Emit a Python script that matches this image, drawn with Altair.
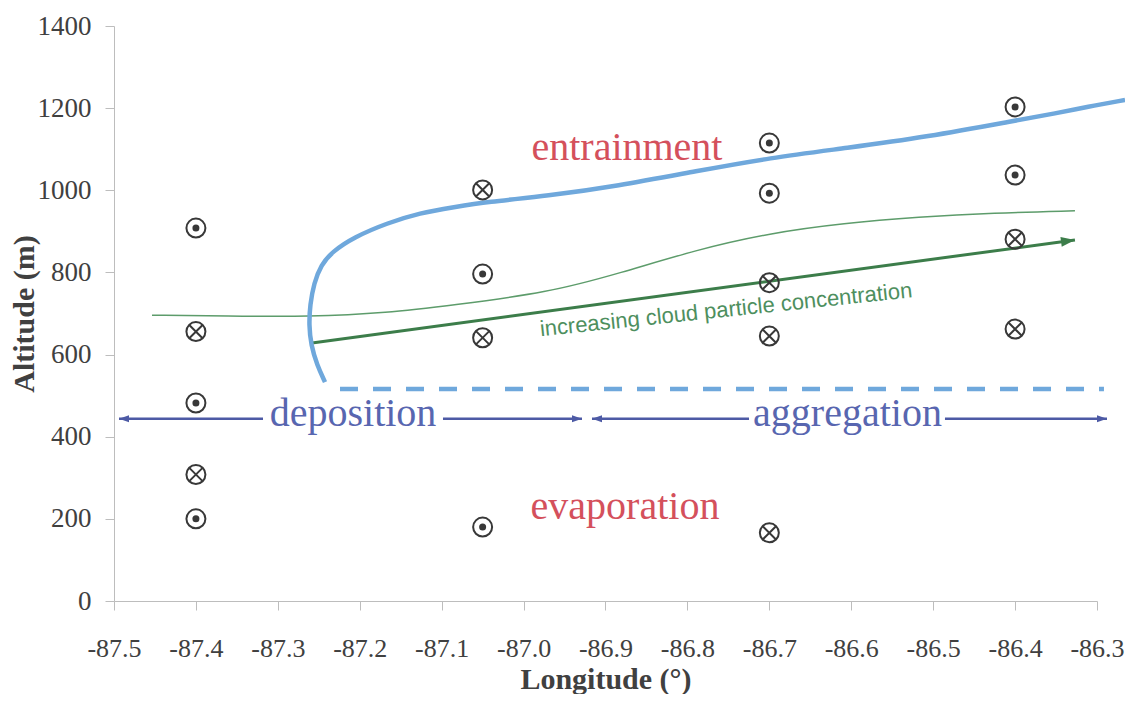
import altair as alt
import pandas as pd

# ---------------- data ----------------
x_ticks = [-87.5, -87.4, -87.3, -87.2, -87.1, -87.0, -86.9, -86.8, -86.7, -86.6, -86.5, -86.4, -86.3]
y_ticks = [0, 200, 400, 600, 800, 1000, 1200, 1400]

# circle-with-dot markers
dot_lon = [-87.4, -87.4, -87.4, -87.05, -87.05, -86.7, -86.7, -86.4, -86.4]
dot_alt = [908, 482, 200, 796, 180, 1115, 993, 1203, 1037]
# circle-with-cross markers
cross_lon = [-87.4, -87.4, -87.05, -87.05, -86.7, -86.7, -86.7, -86.4, -86.4]
cross_alt = [656, 308, 1001, 641, 775, 645, 166, 881, 662]

# thick blue boundary curve (ordered)
blue_lon = [-87.2424, -87.2522, -87.2595, -87.2620, -87.2607, -87.2559, -87.2473, -87.2339,
            -87.2070, -87.1667, -87.1265, -87.0849, -87.0447, -86.9714, -86.8860, -86.7883,
            -86.6992, -86.6052, -86.5075, -86.4013, -86.3488, -86.3122, -86.2658]
blue_alt = [533, 575, 623, 672, 721, 774, 818, 850, 886, 920, 945, 959, 972, 986, 1010, 1047,
            1079, 1103, 1130, 1169, 1188, 1203, 1220]

# dashed blue line
dash_lon = [-87.2241, -86.2915]
dash_alt = [516, 516]

# thin green curve
green_lon = [-87.4536, -87.3621, -87.2620, -87.1667, -87.0849, -86.9714, -86.8811, -86.7895,
             -86.6992, -86.6089, -86.5173, -86.4270, -86.3269]
green_alt = [696, 694, 692, 701, 721, 750, 799, 855, 896, 920, 935, 945, 950]

# thick green arrow
garrow_lon = [-87.2583, -86.3269]
garrow_alt = [628, 879]

# indigo arrow segments
seg_start = [-87.4939, -87.0984, -86.9165, -86.4856]
seg_end = [-87.3181, -86.9287, -86.7248, -86.2878]
seg_alt = [444, 444, 444, 444]
head_lon = [-87.4939, -86.9287, -86.9165, -86.2878]
head_angle = [180, 0, 180, 0]

# labels
red_labels = ["entrainment", "evaporation"]
red_lon = [-86.8738, -86.8762]
red_alt = [1074, 200]
blue_labels = ["deposition", "aggregation"]
blue_lab_lon = [-87.2082, -86.6046]
blue_lab_alt = [427, 427]
green_label = ["increasing cloud particle concentration"]
green_lab_lon = [-86.752]
green_lab_alt = [692]

# ---------------- styling ----------------
AX_COL = "#bdbdbd"
TXT_COL = "#404040"
SERIF = "Liberation Serif"
MARK_COL = "#383838"
BLUE = "#6fa8dc"
INDIGO = "#4d5aa5"
INDIGO_TXT = "#5866b0"
RED = "#d4505c"
GREEN_THIN = "#5d9c6b"
GREEN_THICK = "#3c7d4a"

xscale = alt.Scale(domain=[-87.5, -86.3], nice=False, zero=False)
yscale = alt.Scale(domain=[0, 1400], nice=False, zero=False)

xaxis = alt.Axis(
    values=x_ticks,
    labelExpr="datum.value < 0 ? '-' + format(-datum.value, '.1f') : format(datum.value, '.1f')",
    title="Longitude (°)", grid=False,
    domainColor=AX_COL, tickColor=AX_COL, tickSize=9, labelPadding=25,
    labelFont=SERIF, labelFontSize=26, labelColor=TXT_COL, labelFlush=False, labelOverlap=False,
    titleFont=SERIF, titleFontSize=30, titleFontWeight="bold", titleColor=TXT_COL,
    titleX=491.5, titleY=87, titleAlign="center", titleBaseline="alphabetic",
)
yaxis = alt.Axis(
    values=y_ticks, format="d", title="Altitude (m)", grid=False,
    domainColor=AX_COL, tickColor=AX_COL, tickSize=9, labelPadding=14,
    labelFont=SERIF, labelFontSize=27, labelColor=TXT_COL, labelFlush=False, labelOverlap=False,
    titleFont=SERIF, titleFontSize=30, titleFontWeight="bold", titleColor=TXT_COL,
    titleX=-90, titleY=287.5, titleAngle=270, titleAlign="center", titleBaseline="middle",
)

X = alt.X("lon:Q", scale=xscale, axis=xaxis)
Y = alt.Y("alt:Q", scale=yscale, axis=yaxis)

dots = pd.DataFrame({"lon": dot_lon, "alt": dot_alt})
crosses = pd.DataFrame({"lon": cross_lon, "alt": cross_alt})
blue = pd.DataFrame({"lon": blue_lon, "alt": blue_alt, "ord": list(range(len(blue_lon)))})
dashed = pd.DataFrame({"lon": dash_lon, "alt": dash_alt})
green = pd.DataFrame({"lon": green_lon, "alt": green_alt})
garrow = pd.DataFrame({"lon": garrow_lon, "alt": garrow_alt})
gtip = pd.DataFrame({"lon": [garrow_lon[1]], "alt": [garrow_alt[1]]})
segs = pd.DataFrame({"lon": seg_start, "lon2": seg_end, "alt": seg_alt})
heads = pd.DataFrame({"lon": head_lon, "alt": seg_alt, "ang": head_angle})
reds = pd.DataFrame({"lon": red_lon, "alt": red_alt, "label": red_labels})
blues = pd.DataFrame({"lon": blue_lab_lon, "alt": blue_lab_alt, "label": blue_labels})
greens = pd.DataFrame({"lon": green_lab_lon, "alt": green_lab_alt, "label": green_label})

ARROW = "M0,0L-2,-0.7L-2,0.7Z"
CROSS = "M-0.7,-0.7L0.7,0.7M0.7,-0.7L-0.7,0.7"

layers = [
    alt.Chart(green).mark_line(color=GREEN_THIN, strokeWidth=1.5, interpolate="basis").encode(x=X, y=Y),
    alt.Chart(garrow).mark_line(color=GREEN_THICK, strokeWidth=3).encode(x=X, y=Y),
    alt.Chart(gtip).mark_point(shape=ARROW, size=196, filled=True, color=GREEN_THICK,
                               opacity=1, angle=352.3).encode(x=X, y=Y),
    alt.Chart(blue).mark_line(color=BLUE, strokeWidth=4.5, interpolate="basis",
                              strokeCap="butt").encode(x=X, y=Y, order="ord:Q"),
    alt.Chart(dashed).mark_line(color=BLUE, strokeWidth=4.5, strokeDash=[18, 15]).encode(x=X, y=Y),
    alt.Chart(segs).mark_rule(color=INDIGO, strokeWidth=2.5).encode(x=X, x2="lon2:Q", y=Y),
    alt.Chart(heads).mark_point(shape=ARROW, size=100, filled=True, color=INDIGO, opacity=1).encode(
        x=X, y=Y, angle=alt.Angle("ang:Q", scale=None)),
    alt.Chart(dots).mark_point(shape="circle", size=361, filled=False, strokeWidth=2,
                               color=MARK_COL, opacity=1).encode(x=X, y=Y),
    alt.Chart(dots).mark_point(shape="circle", size=49, filled=True, color=MARK_COL,
                               opacity=1).encode(x=X, y=Y),
    alt.Chart(crosses).mark_point(shape="circle", size=361, filled=False, strokeWidth=2,
                                  color=MARK_COL, opacity=1).encode(x=X, y=Y),
    alt.Chart(crosses).mark_point(shape=CROSS, size=361, filled=False, strokeWidth=2,
                                  color=MARK_COL, opacity=1).encode(x=X, y=Y),
    alt.Chart(reds).mark_text(font=SERIF, fontSize=40, color=RED, align="center",
                              baseline="alphabetic").encode(x=X, y=Y, text="label:N"),
    alt.Chart(blues).mark_text(font=SERIF, fontSize=40, color=INDIGO_TXT, align="center",
                               baseline="alphabetic").encode(x=X, y=Y, text="label:N"),
    alt.Chart(greens).mark_text(font="Liberation Sans", fontSize=22, color="#4e8f5e", align="center",
                                baseline="alphabetic", angle=354).encode(x=X, y=Y, text="label:N"),
]

chart = alt.layer(*layers).properties(
    width=983, height=575,
    autosize=alt.AutoSizeParams(type="none"),
    padding={"left": 106, "top": 18, "right": 28, "bottom": 93},
    background="white",
).configure_view(stroke="transparent")

chart.save("out.html", embed_options={"renderer": "svg", "actions": False})
